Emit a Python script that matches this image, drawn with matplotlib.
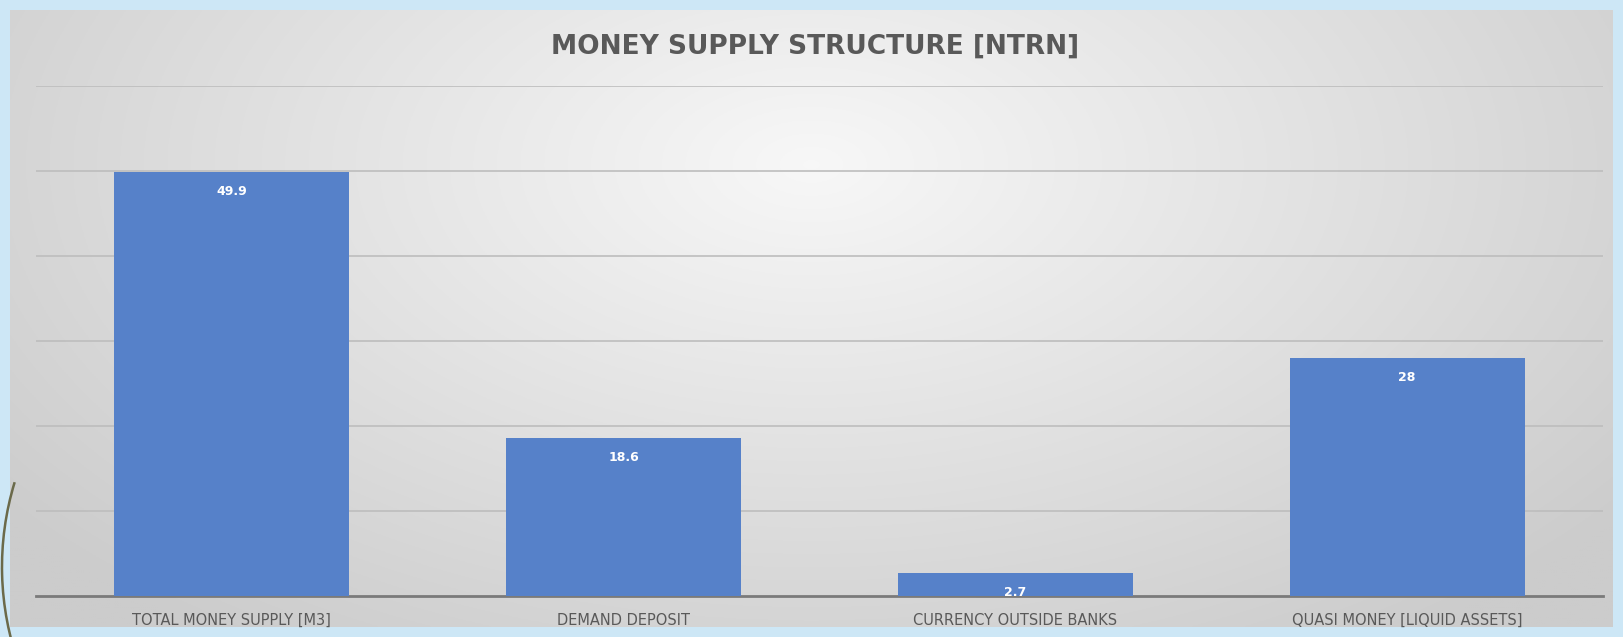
import numpy as np
import matplotlib.pyplot as plt
from matplotlib.patches import Arc

# money supply structure, trillions
categories = ["TOTAL MONEY SUPPLY [M3]", "DEMAND DEPOSIT",
              "CURRENCY OUTSIDE BANKS", "QUASI MONEY [LIQUID ASSETS]"]
values = [49.9, 18.6, 2.7, 28]
title = "MONEY SUPPLY STRUCTURE [NTRN]"

W, H = 1623, 637
fig = plt.figure(figsize=(W / 100, H / 100), dpi=100)
fig.patch.set_facecolor("#cde7f6")

# soft radial gradient behind the chart
bg = fig.add_axes([10 / W, 10 / H, 1 - 20 / W, 1 - 20 / H])
yy, xx = np.mgrid[0:1:300j, 0:1:800j]
r = np.sqrt(((xx - 0.5) / 0.75) ** 2 + ((yy - 0.25) / 1.1) ** 2)
shade = np.clip(0.97 - 0.2 * r, 0.8, 1.0)
bg.imshow(np.dstack([shade, shade, shade]), aspect="auto",
          extent=[0, 1, 0, 1], origin="upper")
bg.set_axis_off()

# thin decorative curve at the left edge
deco = fig.add_axes([0, 0, 1, 1], facecolor="none")
deco.set_xlim(0, W)
deco.set_ylim(0, H)
deco.add_patch(Arc((292, 70), 580, 580, theta1=163, theta2=200,
                   color="#6b6a4a", lw=1.8))
deco.set_axis_off()

ax = fig.add_axes([36 / W, 41 / H, 1567 / W, 510 / H], facecolor="none")
x = np.arange(len(categories))
bars = ax.bar(x, values, width=0.6, color="#5681c9", zorder=3)

ax.set_xlim(-0.5, len(categories) - 0.5)
ax.set_ylim(0, 60)
ax.set_yticks(np.arange(10, 61, 10))
ax.yaxis.grid(True, color="#bdbdbd", lw=1.2, zorder=0)
ax.tick_params(axis="y", left=False, labelleft=False)
ax.tick_params(axis="x", length=0, pad=12, labelsize=10.5, labelcolor="#595959")
ax.set_xticks(x)
ax.set_xticklabels(categories)
for s in ["top", "right", "left"]:
    ax.spines[s].set_visible(False)
ax.spines["bottom"].set_color("#7a7a7a")
ax.spines["bottom"].set_linewidth(2)

for b, v in zip(bars, values):
    ax.annotate(f"{v:g}", (b.get_x() + b.get_width() / 2, v),
                xytext=(0, -14), textcoords="offset points",
                ha="center", va="center", color="white",
                fontsize=9, fontweight="bold", zorder=4)

fig.text(0.502, 1 - 47 / H, title, ha="center", va="center",
         fontsize=19, fontweight="bold", color="#595959")

fig.savefig("out.png", dpi=100, facecolor=fig.get_facecolor())
